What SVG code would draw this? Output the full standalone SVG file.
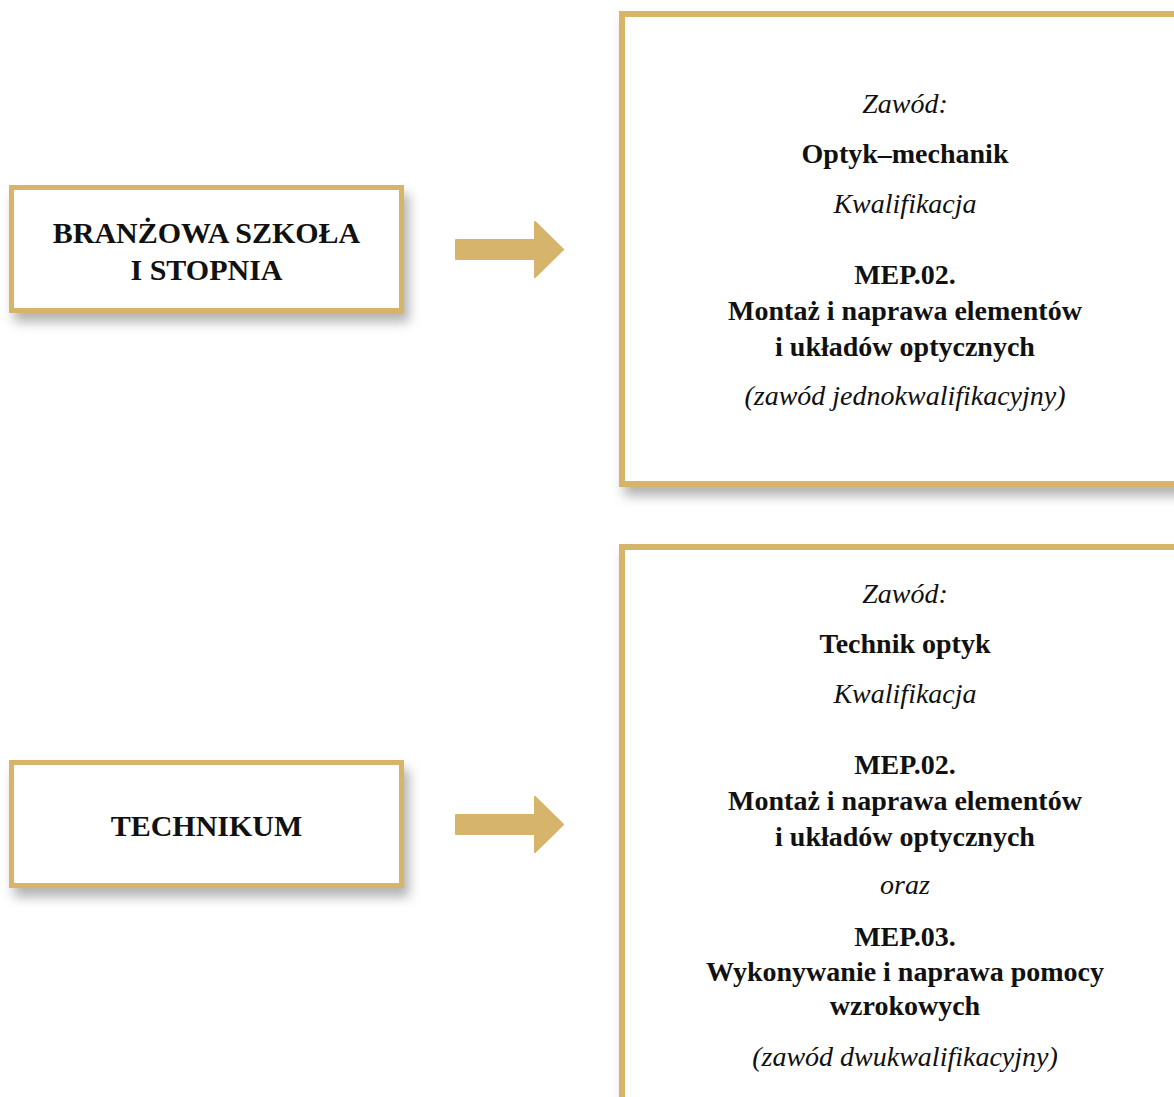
<svg xmlns="http://www.w3.org/2000/svg" width="1174" height="1097" viewBox="0 0 1174 1097">
  <defs>
    <filter id="shadow" x="-10%" y="-10%" width="130%" height="140%">
      <feDropShadow dx="5" dy="9" stdDeviation="6" flood-color="#000" flood-opacity="0.3"/>
    </filter>
  </defs>
  <style>
    .box { fill: #ffffff; stroke: #D7B46B; }
    .arrow { fill: #D7B46B; stroke: #D7B46B; stroke-width: 2; stroke-linejoin: round; }
    text { font-family: "Liberation Serif", "DejaVu Serif", serif; fill: #111; text-anchor: middle; }
    .lb { font-size: 30px; font-weight: bold; }
    .b { font-size: 28px; font-weight: bold; }
    .i { font-size: 28px; font-style: italic; }
  </style>
  <rect width="1174" height="1097" fill="#ffffff"/>

  <g id="node-branzowa">
    <rect class="box" x="11.5" y="187.5" width="390" height="123" stroke-width="5" filter="url(#shadow)"/>
    <text class="lb" x="206.5" y="243">BRANŻOWA SZKOŁA</text>
    <text class="lb" x="206.5" y="280">I STOPNIA</text>
  </g>

  <g id="node-technikum">
    <rect class="box" x="11.5" y="762.5" width="390" height="123" stroke-width="5" filter="url(#shadow)"/>
    <text class="lb" x="206.5" y="836">TECHNIKUM</text>
  </g>

  <g id="node-optyk-mechanik">
    <rect class="box" x="622" y="14" width="600" height="470" stroke-width="6" filter="url(#shadow)"/>
    <text class="i" x="905" y="113">Zawód:</text>
    <text class="b" x="905" y="163">Optyk–mechanik</text>
    <text class="i" x="905" y="213">Kwalifikacja</text>
    <text class="b" x="905" y="284">MEP.02.</text>
    <text class="b" x="905" y="320">Montaż i naprawa elementów</text>
    <text class="b" x="905" y="356">i układów optycznych</text>
    <text class="i" x="905" y="405">(zawód jednokwalifikacyjny)</text>
  </g>

  <g id="node-technik-optyk">
    <rect class="box" x="622" y="547" width="600" height="600" stroke-width="6" filter="url(#shadow)"/>
    <text class="i" x="905" y="603">Zawód:</text>
    <text class="b" x="905" y="653">Technik optyk</text>
    <text class="i" x="905" y="703">Kwalifikacja</text>
    <text class="b" x="905" y="774">MEP.02.</text>
    <text class="b" x="905" y="810">Montaż i naprawa elementów</text>
    <text class="b" x="905" y="846">i układów optycznych</text>
    <text class="i" x="905" y="894">oraz</text>
    <text class="b" x="905" y="946">MEP.03.</text>
    <text class="b" x="905" y="981">Wykonywanie i naprawa pomocy</text>
    <text class="b" x="905" y="1015">wzrokowych</text>
    <text class="i" x="905" y="1066">(zawód dwukwalifikacyjny)</text>
  </g>

  <g id="connectors">
    <polygon class="arrow" points="456,240 535,240 535,222 563,249.5 535,277 535,259 456,259"/>
    <polygon class="arrow" points="456,815 535,815 535,797 563,824.5 535,852 535,834 456,834"/>
  </g>
</svg>
